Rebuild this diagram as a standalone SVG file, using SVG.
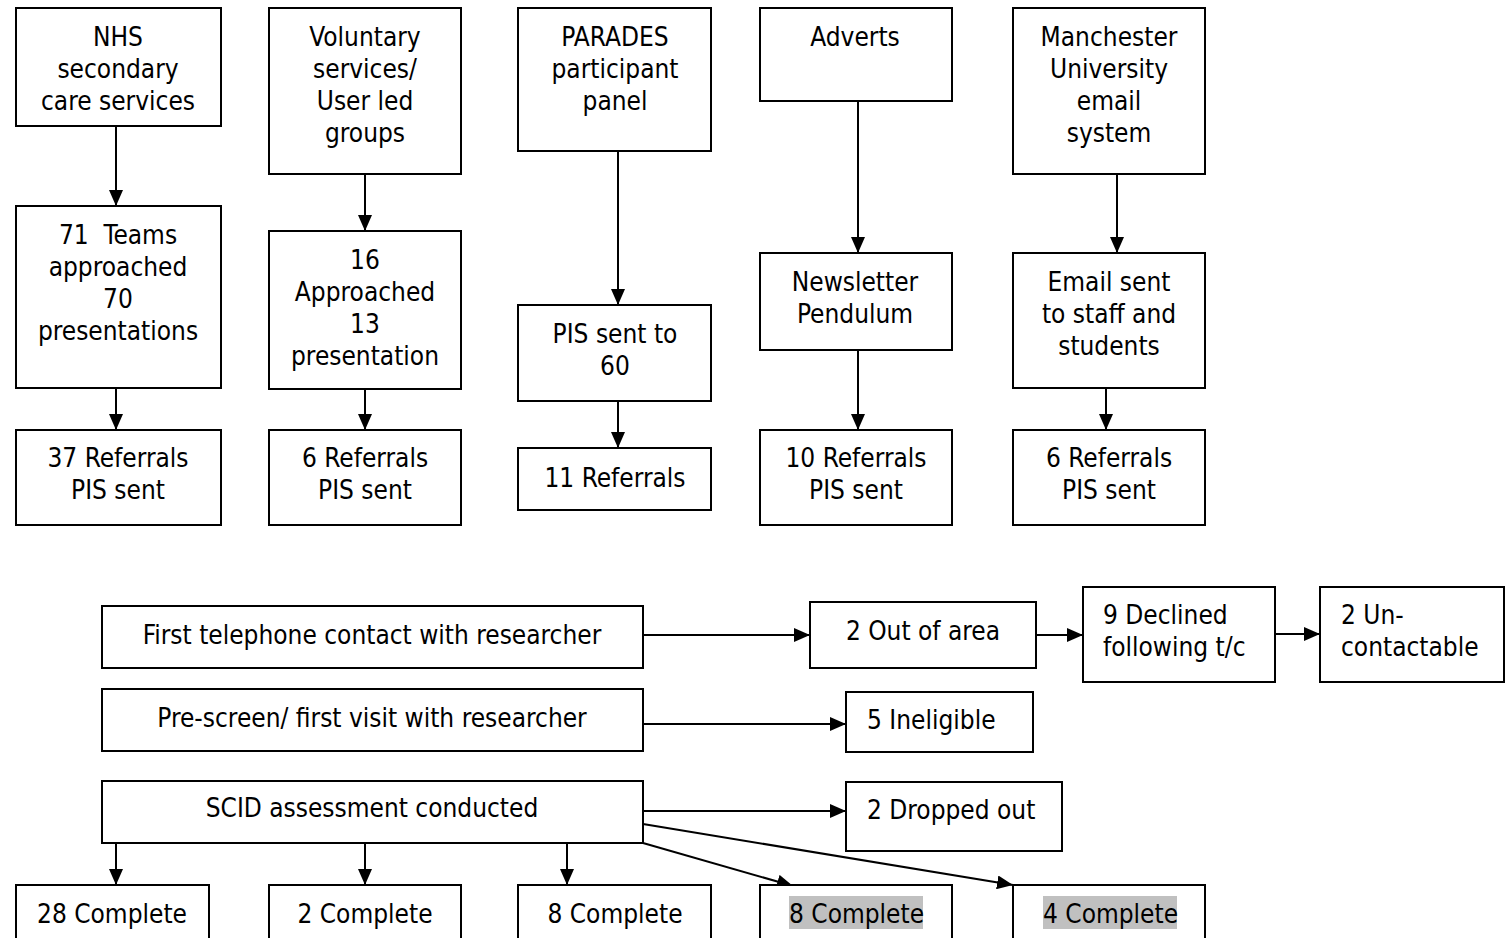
<svg xmlns="http://www.w3.org/2000/svg" width="1511" height="938" viewBox="0 0 1511 938">
<defs>
<marker id="ah" markerWidth="16" markerHeight="14" refX="16" refY="7" orient="auto" markerUnits="userSpaceOnUse">
<path d="M0,0 L16,7 L0,14 Z" fill="#000"/>
</marker>
<style>
rect.b{fill:#fff;stroke:#000;stroke-width:2}
text{font-family:"DejaVu Sans Condensed","DejaVu Sans",sans-serif;font-size:26px;fill:#000}
.c{text-anchor:middle}
.e line{stroke:#000;stroke-width:2;marker-end:url(#ah)}
.hl{fill:#c0c0c0}
</style>
</defs>
<rect width="1511" height="938" fill="#fff"/>
<g class="e" id="connectors">
<line x1="116" y1="126" x2="116" y2="206"/>
<line x1="116" y1="388" x2="116" y2="430"/>
<line x1="365" y1="174" x2="365" y2="231"/>
<line x1="365" y1="389" x2="365" y2="430"/>
<line x1="618" y1="151" x2="618" y2="305"/>
<line x1="618" y1="401" x2="618" y2="448"/>
<line x1="858" y1="101" x2="858" y2="253"/>
<line x1="858" y1="350" x2="858" y2="430"/>
<line x1="1117" y1="174" x2="1117" y2="253"/>
<line x1="1106" y1="388" x2="1106" y2="430"/>
<line x1="643" y1="635" x2="810" y2="635"/>
<line x1="1036" y1="635" x2="1083" y2="635"/>
<line x1="1275" y1="634" x2="1320" y2="634"/>
<line x1="643" y1="724" x2="846" y2="724"/>
<line x1="643" y1="811" x2="846" y2="811"/>
<line x1="116" y1="843" x2="116" y2="885"/>
<line x1="365" y1="843" x2="365" y2="885"/>
<line x1="567" y1="843" x2="567" y2="885"/>
<line x1="643" y1="843" x2="793" y2="886"/>
<line x1="643" y1="824" x2="1013" y2="885"/>
</g>
<g id="n1"><rect class="b" x="16" y="8" width="205" height="118"/><text class="c" x="118" y="46">NHS</text><text class="c" x="118" y="78">secondary</text><text class="c" x="118" y="110">care services</text></g>
<g id="n2"><rect class="b" x="269" y="8" width="192" height="166"/><text class="c" x="365" y="46">Voluntary</text><text class="c" x="365" y="78">services/</text><text class="c" x="365" y="110">User led</text><text class="c" x="365" y="142">groups</text></g>
<g id="n3"><rect class="b" x="518" y="8" width="193" height="143"/><text class="c" x="615" y="46">PARADES</text><text class="c" x="615" y="78">participant</text><text class="c" x="615" y="110">panel</text></g>
<g id="n4"><rect class="b" x="760" y="8" width="192" height="93"/><text class="c" x="855" y="46">Adverts</text></g>
<g id="n5"><rect class="b" x="1013" y="8" width="192" height="166"/><text class="c" x="1109" y="46">Manchester</text><text class="c" x="1109" y="78">University</text><text class="c" x="1109" y="110">email</text><text class="c" x="1109" y="142">system</text></g>
<g id="n6"><rect class="b" x="16" y="206" width="205" height="182"/><text class="c" x="118" y="244" xml:space="preserve">71  Teams</text><text class="c" x="118" y="276">approached</text><text class="c" x="118" y="308">70</text><text class="c" x="118" y="340">presentations</text></g>
<g id="n7"><rect class="b" x="269" y="231" width="192" height="158"/><text class="c" x="365" y="269">16</text><text class="c" x="365" y="301">Approached</text><text class="c" x="365" y="333">13</text><text class="c" x="365" y="365">presentation</text></g>
<g id="n8"><rect class="b" x="518" y="305" width="193" height="96"/><text class="c" x="615" y="343">PIS sent to</text><text class="c" x="615" y="375">60</text></g>
<g id="n9"><rect class="b" x="760" y="253" width="192" height="97"/><text class="c" x="855" y="291">Newsletter</text><text class="c" x="855" y="323">Pendulum</text></g>
<g id="n10"><rect class="b" x="1013" y="253" width="192" height="135"/><text class="c" x="1109" y="291">Email sent</text><text class="c" x="1109" y="323">to staff and</text><text class="c" x="1109" y="355">students</text></g>
<g id="n11"><rect class="b" x="16" y="430" width="205" height="95"/><text class="c" x="118" y="467">37 Referrals</text><text class="c" x="118" y="499">PIS sent</text></g>
<g id="n12"><rect class="b" x="269" y="430" width="192" height="95"/><text class="c" x="365" y="467">6 Referrals</text><text class="c" x="365" y="499">PIS sent</text></g>
<g id="n13"><rect class="b" x="518" y="448" width="193" height="62"/><text class="c" x="615" y="487">11 Referrals</text></g>
<g id="n14"><rect class="b" x="760" y="430" width="192" height="95"/><text class="c" x="856" y="467">10 Referrals</text><text class="c" x="856" y="499">PIS sent</text></g>
<g id="n15"><rect class="b" x="1013" y="430" width="192" height="95"/><text class="c" x="1109" y="467">6 Referrals</text><text class="c" x="1109" y="499">PIS sent</text></g>
<g id="n16"><rect class="b" x="102" y="606" width="541" height="62"/><text class="c" x="372" y="644">First telephone contact with researcher</text></g>
<g id="n17"><rect class="b" x="102" y="689" width="541" height="62"/><text class="c" x="372" y="727">Pre-screen/ first visit with researcher</text></g>
<g id="n18"><rect class="b" x="102" y="781" width="541" height="62"/><text class="c" x="372" y="817">SCID assessment conducted</text></g>
<g id="n19"><rect class="b" x="810" y="602" width="226" height="66"/><text class="c" x="923" y="640">2 Out of area</text></g>
<g id="n20"><rect class="b" x="1083" y="587" width="192" height="95"/><text x="1103" y="624">9 Declined</text><text x="1103" y="656">following t/c</text></g>
<g id="n21"><rect class="b" x="1320" y="587" width="184" height="95"/><text x="1341" y="624">2 Un-</text><text x="1341" y="656">contactable</text></g>
<g id="n22"><rect class="b" x="846" y="692" width="187" height="60"/><text x="867" y="729">5 Ineligible</text></g>
<g id="n23"><rect class="b" x="846" y="782" width="216" height="69"/><text x="867" y="819">2 Dropped out</text></g>
<g id="n24"><rect class="b" x="16" y="885" width="193" height="60"/><text class="c" x="112" y="923">28 Complete</text></g>
<g id="n25"><rect class="b" x="269" y="885" width="192" height="60"/><text class="c" x="365" y="923">2 Complete</text></g>
<g id="n26"><rect class="b" x="518" y="885" width="193" height="60"/><text class="c" x="615" y="923">8 Complete</text></g>
<g id="n27"><rect class="b" x="760" y="885" width="192" height="60"/><rect class="hl" x="789" y="896" width="134" height="33"/><text x="789" y="923">8 Complete</text></g>
<g id="n28"><rect class="b" x="1013" y="885" width="192" height="60"/><rect class="hl" x="1043" y="896" width="134" height="33"/><text x="1043" y="923">4 Complete</text></g>
</svg>
